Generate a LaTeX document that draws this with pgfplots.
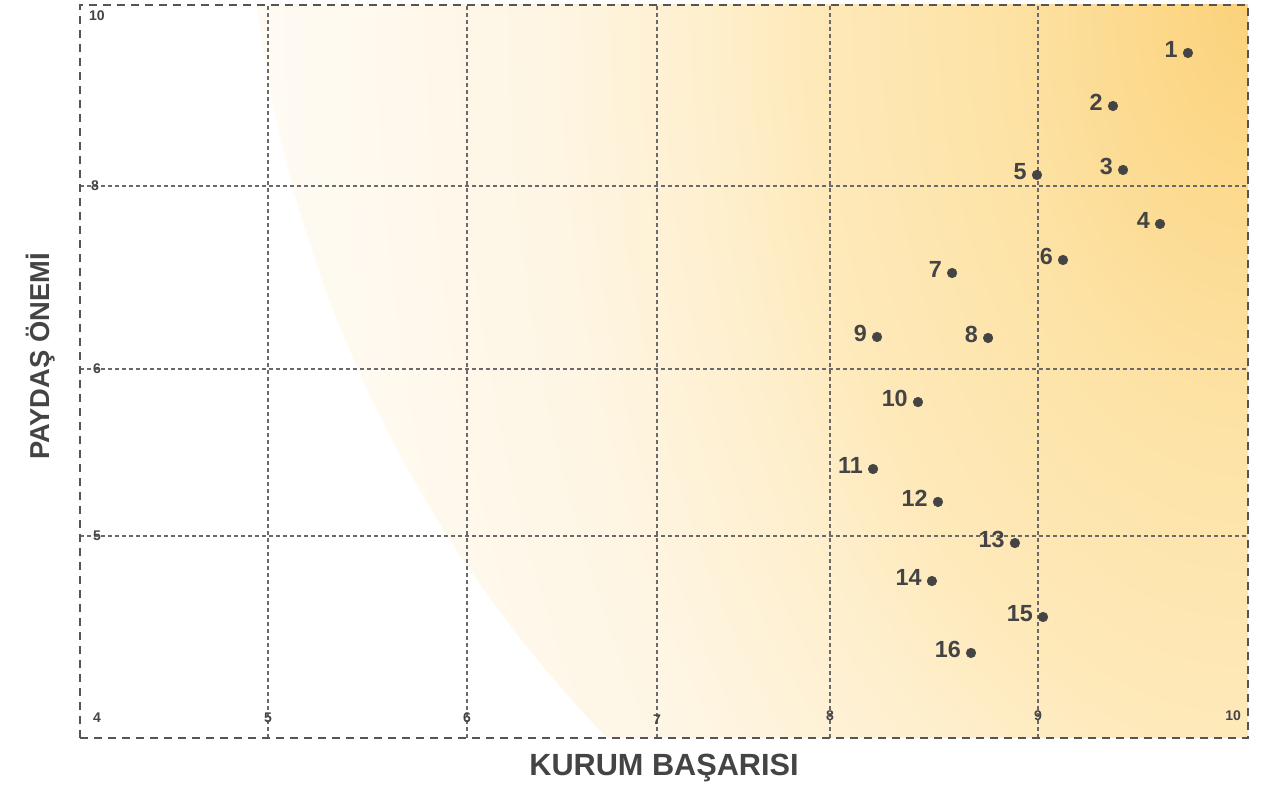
\documentclass[border=0pt]{standalone}
\usepackage{pgfplots}
\pgfplotsset{compat=1.18}
\usepackage{fontspec}
\setmainfont{Liberation Sans}
\definecolor{txt}{HTML}{444444}
\definecolor{frame}{HTML}{555555}
\definecolor{gridc}{HTML}{6A6A6A}
\definecolor{g0}{HTML}{FBD27A}
\definecolor{g1}{HTML}{FDE2A4}
\definecolor{g2}{HTML}{FEE9BA}
\definecolor{g3}{HTML}{FEEFCD}
\definecolor{g4}{HTML}{FEF5E3}
\definecolor{g5}{HTML}{FFF9EE}
\definecolor{g6}{HTML}{FFFBF3}
\pgfdeclareradialshading{glow}{\pgfpointorigin}{color(0bp)=(g0); color(6bp)=(g1); color(11bp)=(g2); color(13.5bp)=(g3); color(17.5bp)=(g4); color(22bp)=(g5); color(25bp)=(g6); color(50bp)=(g6)}

\pgfplotstableread{
x y label
9.714 9.470 1
9.357 8.884 2
9.405 8.177 3
9.581 7.585 4
8.995 8.122 5
9.119 7.191 6
8.587 7.049 7
8.760 6.339 8
8.226 6.350 9
8.423 5.802 10
8.207 5.401 11
8.519 5.204 12
8.889 4.965 13
8.490 4.777 14
9.024 4.599 15
8.678 4.421 16
}\pointdata

\begin{document}
\begin{tikzpicture}
\begin{scope}
\clip (0,0) rectangle (876pt,549.75pt);
\clip (1086pt,667.5pt) circle (960.5pt);
\shade[shading=glow] (876pt,549.75pt) ellipse [x radius=750pt, y radius=1250pt];
\end{scope}
\begin{axis}[
  scale only axis,
  width=876pt, height=549.75pt,
  x coord trafo/.code={\pgfmathparse{(#1<5) ? (80+188*(#1-4)) : ((#1<6) ? (268+199*(#1-5)) : ((#1<7) ? (467+190*(#1-6)) : ((#1<8) ? (657+173*(#1-7)) : ((#1<9) ? (830+208*(#1-8)) : (1038+210*(#1-9))))))}},
  y coord trafo/.code={\pgfmathparse{(#1<5) ? (49+202*(#1-4)) : ((#1<6) ? (251+167*(#1-5)) : ((#1<8) ? (418+91.5*(#1-6)) : (601+90.5*(#1-8))))}},
  xmin=4, xmax=10, ymin=4, ymax=10,
  xtick={5,6,7,8,9}, ytick={5,6,8},
  xticklabels={}, yticklabels={},
  major tick length=0pt,
  grid=major,
  grid style={gridc, line width=0.85pt, dash pattern=on 3pt off 2.25pt},
  axis line style={frame, line width=1.9pt, dash pattern=on 6pt off 4.5pt},
  clip=false,
]
\addplot[only marks, mark=*, mark size=3.6pt, color=txt,
  nodes near coords, point meta=explicit symbolic,
  nodes near coords style={anchor=east, inner sep=0pt, xshift=-7.5pt, yshift=2.5pt,
    font=\bfseries\fontsize{17.5}{17.5}\selectfont, text=txt}]
  table[x=x, y=y, meta=label] {\pointdata};
% tick labels
\begin{scope}[every node/.style={font=\bfseries\fontsize{10.5}{10.5}\selectfont, text=txt, inner sep=0pt}]
\node at (axis cs:4.09,4.1) {4};
\node at (axis cs:5,4.1) {5};
\node at (axis cs:6,4.1) {6};
\node at (axis cs:7,4.09) {7};
\node at (axis cs:8,4.11) {8};
\node at (axis cs:9,4.11) {9};
\node at (axis cs:9.929,4.11) {10};
\node at (axis cs:4.09,9.88) {10};
\node at (axis cs:4.08,8) {8};
\node at (axis cs:4.09,6) {6};
\node at (axis cs:4.09,5) {5};
\end{scope}
\end{axis}
\path (current axis.south) ++(0,-22.5pt) node[font=\bfseries\fontsize{23}{23}\selectfont, text=txt] {KURUM BAŞARISI};
\path (current axis.west) ++(-29.25pt,11.25pt) node[rotate=90, font=\bfseries\fontsize{20.5}{20.5}\selectfont, text=txt] {PAYDAŞ ÖNEMİ};
\pgfresetboundingbox
\path (-60pt,-36.75pt) rectangle (891pt,553.5pt);
\end{tikzpicture}
\end{document}
